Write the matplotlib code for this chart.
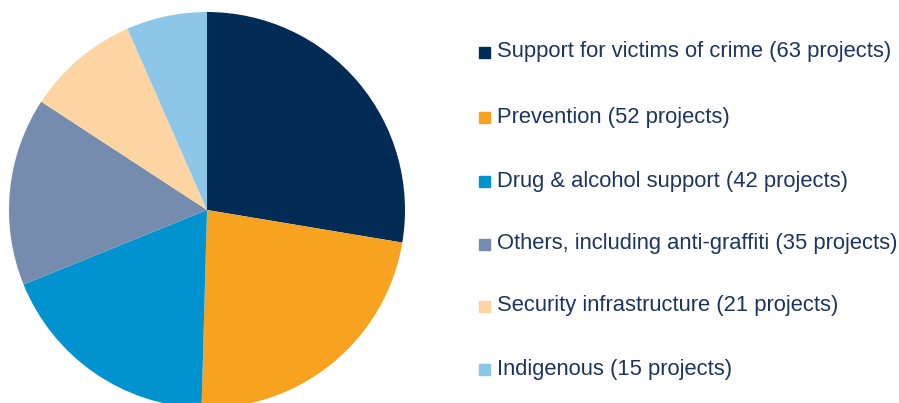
import matplotlib
matplotlib.use("Agg")
import matplotlib.pyplot as plt

categories = ["Support for victims of crime", "Prevention", "Drug & alcohol support",
              "Others, including anti-graffiti", "Security infrastructure", "Indigenous"]
projects = [63, 52, 42, 35, 21, 15]
colors = ["#022b55", "#f8a31f", "#0093cf", "#758cae", "#fdd5a3", "#8cc6e8"]

plt.rcParams['font.family'] = ['Liberation Sans', 'DejaVu Sans']
text_color = "#1c355e"

fig = plt.figure(figsize=(8.99, 4.03), dpi=100)
W, H = 899, 403
cx, cy, r = 207, 210, 198
ax = fig.add_axes([(cx - r) / W, (H - cy - r) / H, 2 * r / W, 2 * r / H])
ax.pie(projects, colors=colors, startangle=90, counterclock=False, radius=1,
       wedgeprops=dict(linewidth=0))
ax.set_xlim(-1, 1)
ax.set_ylim(-1, 1)
ax.set_aspect('equal')
ax.axis('off')

# legend rows
row_y = [52, 117, 181, 244, 306, 369]
for cat, n, col, y in zip(categories, projects, colors, row_y):
    fig.patches.append(plt.Rectangle((479 / W, (H - y - 6) / H), 11 / W, 11 / H,
                                     transform=fig.transFigure, color=col, figure=fig))
    fig.text(497 / W, (H - y) / H, f"{cat} ({n} projects)", color=text_color,
             fontsize=15.8, va='center', ha='left')

fig.savefig("out.png", dpi=100)
